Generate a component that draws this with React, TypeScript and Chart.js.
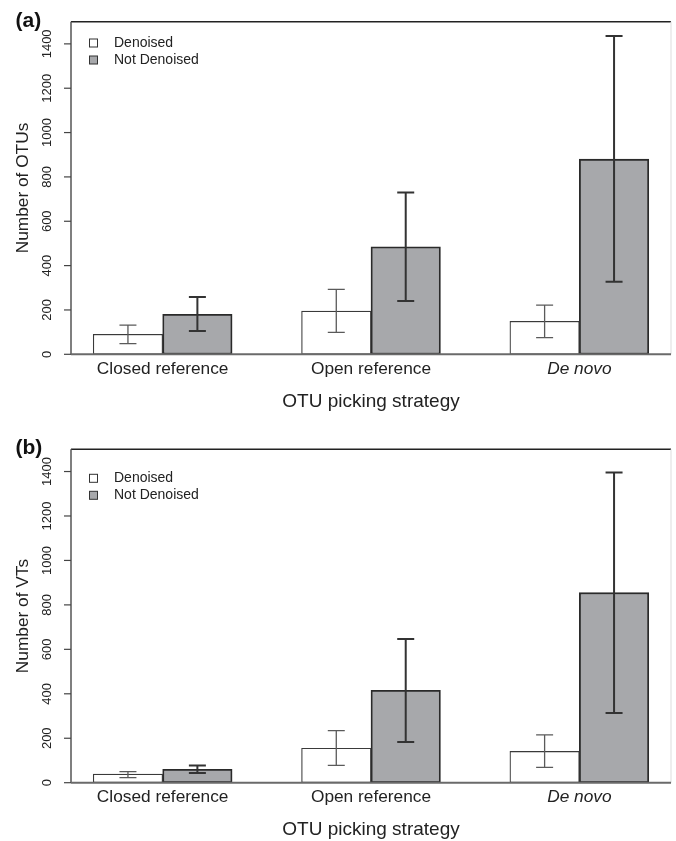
import React, { useEffect, useRef } from "react";
import { Chart, registerables } from "chart.js";

Chart.register(...registerables);

// ---------------- DATA ----------------
const categories = ["Closed reference", "Open reference", "De novo"];
const categoryItalic = [false, false, true];
const seriesNames = ["Denoised", "Not Denoised"];
const yTicks = [0, 200, 400, 600, 800, 1000, 1200, 1400];
const xAxisTitle = "OTU picking strategy";

// Panel (a): Number of OTUs
const otuDenoised = [90, 195, 149];
const otuDenoisedLow = [48, 99, 75];
const otuDenoisedHigh = [132, 293, 222];
const otuNotDenoised = [180, 485, 880];
const otuNotDenoisedLow = [105, 240, 327];
const otuNotDenoisedHigh = [258, 730, 1436];

// Panel (b): Number of VTs
const vtDenoised = [39, 155, 141];
const vtDenoisedLow = [23, 78, 69];
const vtDenoisedHigh = [50, 234, 215];
const vtNotDenoised = [60, 416, 855];
const vtNotDenoisedLow = [44, 183, 314];
const vtNotDenoisedHigh = [77, 647, 1396];

// ---------------- STYLE ----------------
const FONT = "'Liberation Sans', Arial, Helvetica, sans-serif";
const TEXT = "#222";
const GRAY_FILL = "#a7a8ab";

type PanelProps = {
  tag: string;
  yTitle: string;
  denoised: number[];
  denoisedLow: number[];
  denoisedHigh: number[];
  notDenoised: number[];
  notDenoisedLow: number[];
  notDenoisedHigh: number[];
  height: number;
  padTop: number;
  padBottom: number;
  legendY: number;
  tagY: number;
};

function Panel(p: PanelProps) {
  const ref = useRef<HTMLCanvasElement | null>(null);

  useEffect(() => {
    if (!ref.current) return;
    const lows = [p.denoisedLow, p.notDenoisedLow];
    const highs = [p.denoisedHigh, p.notDenoisedHigh];
    const errColors = ["#5a5a5a", "#333333"];
    const errWidths = [1.3, 2];

    const plugin = {
      id: "rstyle",
      afterDatasetsDraw(chart: any) {
        const ctx = chart.ctx as CanvasRenderingContext2D;
        const ys = chart.scales.y;
        const xs = chart.scales.x;
        const a = chart.chartArea;

        // error bars
        chart.data.datasets.forEach((_ds: any, di: number) => {
          const meta = chart.getDatasetMeta(di);
          meta.data.forEach((bar: any, i: number) => {
            const x = bar.x;
            const y1 = ys.getPixelForValue(lows[di][i]);
            const y2 = ys.getPixelForValue(highs[di][i]);
            ctx.save();
            ctx.strokeStyle = errColors[di];
            ctx.lineWidth = errWidths[di];
            ctx.beginPath();
            ctx.moveTo(x, y1);
            ctx.lineTo(x, y2);
            ctx.moveTo(x - 8.5, y1);
            ctx.lineTo(x + 8.5, y1);
            ctx.moveTo(x - 8.5, y2);
            ctx.lineTo(x + 8.5, y2);
            ctx.stroke();
            ctx.restore();
          });
        });

        ctx.save();
        // plot box: top & right
        ctx.strokeStyle = "#222";
        ctx.lineWidth = 1.5;
        ctx.beginPath();
        ctx.moveTo(a.left, a.top);
        ctx.lineTo(a.right, a.top);
        ctx.stroke();
        ctx.strokeStyle = "#dddddd";
        ctx.lineWidth = 1;
        ctx.beginPath();
        ctx.moveTo(a.right, a.top);
        ctx.lineTo(a.right, a.bottom);
        ctx.stroke();

        // y axis line
        const y0 = ys.getPixelForValue(0);
        ctx.strokeStyle = "#555";
        ctx.lineWidth = 1.5;
        ctx.beginPath();
        ctx.moveTo(a.left, a.top);
        ctx.lineTo(a.left, y0);
        ctx.stroke();

        // baseline
        ctx.strokeStyle = "#6a6a6a";
        ctx.lineWidth = 2;
        ctx.beginPath();
        ctx.moveTo(a.left, y0);
        ctx.lineTo(a.right, y0);
        ctx.stroke();

        // y ticks + labels
        ctx.strokeStyle = "#444";
        ctx.lineWidth = 1.2;
        ctx.fillStyle = TEXT;
        ctx.font = `13px ${FONT}`;
        yTicks.forEach((v) => {
          const y = ys.getPixelForValue(v);
          ctx.beginPath();
          ctx.moveTo(a.left - 7, y);
          ctx.lineTo(a.left, y);
          ctx.stroke();
          ctx.save();
          ctx.translate(a.left - 23.5, y);
          ctx.rotate(-Math.PI / 2);
          ctx.textAlign = "center";
          ctx.textBaseline = "middle";
          ctx.fillText(String(v), 0, 0);
          ctx.restore();
        });

        // y title
        ctx.save();
        ctx.translate(23, (a.top + y0) / 2);
        ctx.rotate(-Math.PI / 2);
        ctx.textAlign = "center";
        ctx.textBaseline = "middle";
        ctx.font = `17.3px ${FONT}`;
        ctx.fillText(p.yTitle, 0, 0);
        ctx.restore();

        // category labels
        ctx.textAlign = "center";
        ctx.textBaseline = "alphabetic";
        categories.forEach((c, i) => {
          const x = xs.getPixelForValue(3 * i + 2);
          ctx.font = `${categoryItalic[i] ? "italic " : ""}17.3px ${FONT}`;
          ctx.fillText(c, x, y0 + 19.7);
        });

        // x title
        ctx.font = `19px ${FONT}`;
        ctx.fillText(xAxisTitle, (a.left + a.right) / 2, y0 + 52.5);

        // panel tag
        ctx.textAlign = "left";
        ctx.textBaseline = "middle";
        ctx.font = `bold 21px ${FONT}`;
        ctx.fillStyle = "#111";
        ctx.fillText(p.tag, 15.5, p.tagY);

        // legend
        const fills = ["#ffffff", GRAY_FILL];
        ctx.font = `14px ${FONT}`;
        ctx.fillStyle = TEXT;
        seriesNames.forEach((s, i) => {
          const cy = p.legendY + i * 17;
          ctx.fillStyle = fills[i];
          ctx.fillRect(89.5, cy - 4, 8, 8);
          ctx.strokeStyle = "#333";
          ctx.lineWidth = 1;
          ctx.strokeRect(89.5, cy - 4, 8, 8);
          ctx.fillStyle = TEXT;
          ctx.fillText(s, 114, cy);
        });
        ctx.restore();
      },
    };

    const chart = new Chart(ref.current, {
      type: "bar",
      data: {
        datasets: [
          {
            label: seriesNames[0],
            data: p.denoised.map((v, i) => ({ x: 3 * i + 1.5, y: v })),
            backgroundColor: "#ffffff",
            borderColor: "#3a3a3a",
            borderWidth: 1.2,
            borderSkipped: false,
            grouped: false,
            categoryPercentage: 1,
            barPercentage: 1,
          },
          {
            label: seriesNames[1],
            data: p.notDenoised.map((v, i) => ({ x: 3 * i + 2.5, y: v })),
            backgroundColor: GRAY_FILL,
            borderColor: "#2a2a2a",
            borderWidth: 1.8,
            borderSkipped: false,
            grouped: false,
            categoryPercentage: 1,
            barPercentage: 1,
          },
        ],
      } as any,
      options: {
        animation: false,
        responsive: false,
        maintainAspectRatio: false,
        devicePixelRatio: 1,
        layout: {
          padding: { left: 71, right: 5, top: p.padTop, bottom: p.padBottom },
        },
        plugins: {
          legend: { display: false },
          tooltip: { enabled: false },
        },
        scales: {
          x: { type: "linear", min: 0.68, max: 9.32, offset: false, display: false },
          y: { type: "linear", min: 0, max: 1500, display: false },
        },
      } as any,
      plugins: [plugin],
    });
    return () => chart.destroy();
  }, []);

  return (
    <canvas
      ref={ref}
      width={676}
      height={p.height}
      style={{ display: "block", width: 676, height: p.height }}
    />
  );
}

export default function App() {
  return (
    <div
      style={{
        position: "absolute",
        left: 0,
        top: 0,
        width: 676,
        height: 841,
        background: "#ffffff",
      }}
    >
      <Panel
        tag="(a)"
        yTitle="Number of OTUs"
        denoised={otuDenoised}
        denoisedLow={otuDenoisedLow}
        denoisedHigh={otuDenoisedHigh}
        notDenoised={otuNotDenoised}
        notDenoisedLow={otuNotDenoisedLow}
        notDenoisedHigh={otuNotDenoisedHigh}
        height={420}
        padTop={21.7}
        padBottom={65.7}
        legendY={43}
        tagY={21}
      />
      <Panel
        tag="(b)"
        yTitle="Number of VTs"
        denoised={vtDenoised}
        denoisedLow={vtDenoisedLow}
        denoisedHigh={vtDenoisedHigh}
        notDenoised={vtNotDenoised}
        notDenoisedLow={vtNotDenoisedLow}
        notDenoisedHigh={vtNotDenoisedHigh}
        height={421}
        padTop={29.3}
        padBottom={58.3}
        legendY={58.3}
        tagY={28}
      />
    </div>
  );
}
